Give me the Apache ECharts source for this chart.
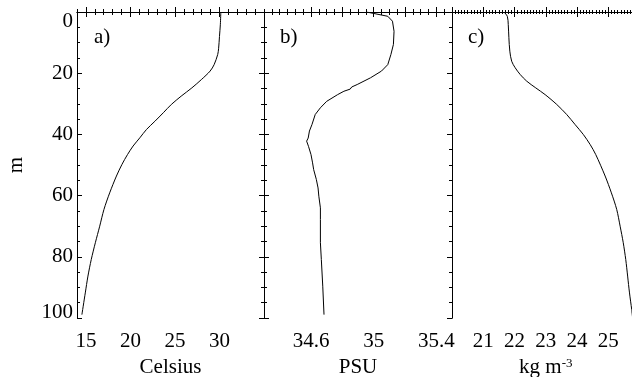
<!DOCTYPE html>
<html>
<head>
<meta charset="utf-8">
<script src="https://cdn.jsdelivr.net/npm/echarts@6/dist/echarts.min.js"></script>
<style>
  html, body { margin: 0; padding: 0; background: #fff; }
  #chart { width: 632px; height: 377px; }
</style>
</head>
<body>
<div id="chart"></div>
<script>
// temperature profile, panel a)
const depthT = [0, 4, 8, 12, 13.9, 17.2, 19.3, 22, 24.8, 27.5, 30.2, 32.9, 35.7, 38.4, 41.1, 43.8, 46.6, 49.8, 53.6, 59.1, 64.5, 70, 75.4, 80.9, 86.3, 91.8, 98.9]
const tempC = [30.15, 30.1, 30.0, 29.9, 29.8, 29.4, 28.95, 28.0, 26.9, 25.7, 24.6, 23.7, 22.75, 21.8, 21.06, 20.3, 19.67, 19.05, 18.43, 17.67, 17.03, 16.55, 16.06, 15.6, 15.23, 14.93, 14.55]

// salinity profile, panel b)
const depthS = [0, 1.4, 3, 6.3, 10.6, 13.9, 17.2, 19.3, 21.5, 23.7, 24.5, 25.2, 25.9, 27, 29.2, 31.3, 33.5, 36.8, 38.9, 41.2, 42.2, 43.9, 46.6, 49.3, 51.5, 54.7, 57.5, 60.2, 64, 67.8, 75.4, 80.9, 89.6, 98.9]
const salinity = [34.955, 35.09, 35.12, 35.13, 35.126, 35.11, 35.09, 35.05, 34.98, 34.895, 34.86, 34.85, 34.81, 34.77, 34.70, 34.66, 34.627, 34.606, 34.59, 34.582, 34.572, 34.584, 34.60, 34.61, 34.617, 34.634, 34.645, 34.65, 34.66, 34.66, 34.66, 34.666, 34.675, 34.683]

// density (sigma-t) profile, panel c)
const depthD = [0, 1.4, 4.1, 8.4, 12.8, 16.1, 18.2, 20.4, 22.6, 24.8, 27, 30.2, 33.5, 36.8, 40, 43.3, 46.6, 53.6, 59.1, 64.5, 70, 75.4, 80.9, 86.3, 91.8, 97.2, 100]
const density = [21.66, 21.77, 21.80, 21.82, 21.85, 21.91, 22.02, 22.18, 22.39, 22.68, 22.98, 23.35, 23.67, 23.94, 24.2, 24.42, 24.6, 24.9, 25.1, 25.27, 25.38, 25.48, 25.56, 25.62, 25.68, 25.75, 25.78]

// axis ticks and labels
const tempMajor = [15, 20, 25, 30]
const tempLabels = [15, 20, 25, 30]
const salMajor = [34.6, 34.8, 35, 35.2, 35.4]
const salLabels = [34.6, 35, 35.4]
const denMajor = [20, 21, 22, 23, 24, 25, 26]
const denLabels = [21, 22, 23, 24, 25]
const panelTags = ['a)', 'b)', 'c)']

const FONT = 'Liberation Serif'
const black = '#000'

const chart = echarts.init(document.getElementById('chart'))

const xAxes = (grid, min, max, majors, labels, step, name, minorLen) => {
  const base = { gridIndex: grid, type: 'value', min, max, splitLine: { show: false } }
  const major = (position, withLabels) => ({
    ...base,
    position,
    axisLine: { show: true, lineStyle: { color: black, width: 1 } },
    axisTick: { show: true, inside: true, length: 5, customValues: majors, lineStyle: { color: black } },
    axisLabel: withLabels
      ? { show: true, customValues: labels, margin: 13, color: black, fontSize: 21, fontFamily: FONT }
      : { show: false },
    name: withLabels ? name : '',
    nameLocation: 'middle',
    nameGap: 31,
    nameTextStyle: {
      color: black,
      fontSize: 21,
      fontFamily: FONT,
      rich: {
        sup: { fontSize: 13, fontFamily: FONT, color: black, verticalAlign: 'top', lineHeight: 13 },
      },
    },
  })
  const minor = (position) => ({
    ...base,
    position,
    interval: step,
    axisLine: { show: false },
    axisTick: { show: true, inside: true, length: minorLen, lineStyle: { color: black } },
    axisLabel: { show: false },
  })
  return [major('bottom', true), minor('bottom'), major('top', false), minor('top')]
}

const yAxes = (grid, withLabels, withTicks) => {
  const base = {
    gridIndex: grid,
    type: 'value',
    inverse: true,
    min: 0,
    max: 100,
    interval: 20,
    splitLine: { show: false },
    axisLine: { show: true, lineStyle: { color: black, width: 1 } },
    axisTick: { show: withTicks, inside: true, length: 5, lineStyle: { color: black } },
    minorTick: { show: withTicks, splitNumber: 4, length: 3, lineStyle: { color: black } },
  }
  return [
    {
      ...base,
      position: 'left',
      axisLabel: withLabels
        ? {
            show: true,
            margin: 4,
            color: black,
            fontSize: 21,
            fontFamily: FONT,
            formatter: (v) => (v === 0 ? '{lo|0}' : v === 100 ? '{hi|100}' : String(v)),
            rich: {
              lo: { fontSize: 21, fontFamily: FONT, color: black, padding: [18, 0, 0, 0] },
              hi: { fontSize: 21, fontFamily: FONT, color: black, padding: [0, 0, 12, 0] },
            },
          }
        : { show: false },
      name: withLabels ? 'm' : '',
      nameLocation: 'middle',
      nameGap: 50,
      nameRotate: 90,
      nameTextStyle: { color: black, fontSize: 21, fontFamily: FONT },
    },
    { ...base, position: 'right', axisLabel: { show: false } },
  ]
}

const line = (xIdx, yIdx, xs, ys, smooth) => ({
  type: 'line',
  xAxisIndex: xIdx,
  yAxisIndex: yIdx,
  data: xs.map((x, i) => [x, ys[i]]),
  showSymbol: false,
  smooth,
  lineStyle: { color: black, width: 1 },
})

chart.setOption({
  animation: false,
  backgroundColor: '#fff',
  textStyle: { fontFamily: FONT },
  grid: [
    { left: 77, top: 12, width: 187, height: 306, outerBoundsMode: 'none' },
    { left: 264, top: 12, width: 188, height: 306, outerBoundsMode: 'none' },
    { left: 452, top: 12, width: 187.5, height: 306, outerBoundsMode: 'none' },
  ],
  xAxis: [
    ...xAxes(0, 14, 35, tempMajor, tempLabels, 1, 'Celsius', 3),
    ...xAxes(1, 34.3, 35.5, salMajor, salLabels, 0.05, 'PSU', 3),
    ...xAxes(2, 20, 26, denMajor, denLabels, 0.1, 'kg m{sup|-3}', 2),
  ],
  yAxis: [
    ...yAxes(0, true, true),
    ...yAxes(1, false, true),
    ...yAxes(2, false, false),
  ],
  graphic: panelTags.map((t, i) => ({
    type: 'text',
    left: [94, 280, 468][i],
    top: 27,
    style: { text: t, fill: black, fontSize: 21, fontFamily: FONT },
  })),
  series: [
    line(0, 0, tempC, depthT, 0.3),
    line(4, 2, salinity, depthS, false),
    line(8, 4, density, depthD, 0.3),
  ],
})
</script>
</body>
</html>
